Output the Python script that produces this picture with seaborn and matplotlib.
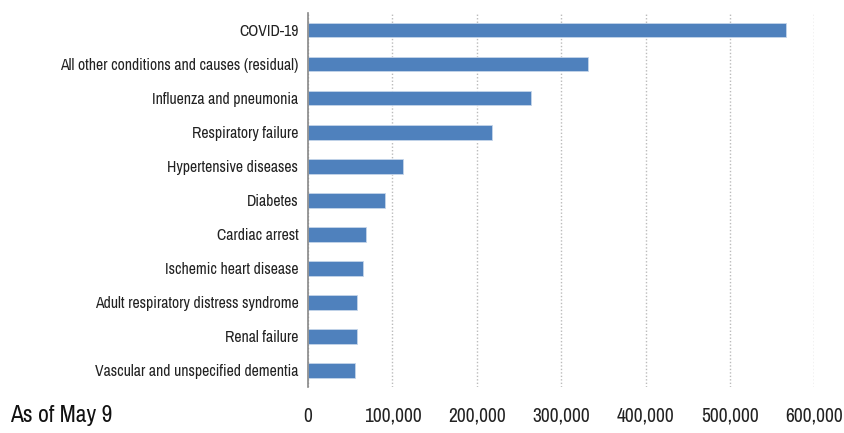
import matplotlib
matplotlib.use("Agg")
import matplotlib.pyplot as plt
import matplotlib.ticker as mticker
import pandas as pd
import seaborn as sns

causes = [
    "COVID-19",
    "All other conditions and causes (residual)",
    "Influenza and pneumonia",
    "Respiratory failure",
    "Hypertensive diseases",
    "Diabetes",
    "Cardiac arrest",
    "Ischemic heart disease",
    "Adult respiratory distress syndrome",
    "Renal failure",
    "Vascular and unspecified dementia",
]
deaths = [566000, 332000, 264000, 218000, 112500, 91000, 68700, 64800, 58500, 58200, 55700]
x_ticks = [0, 100000, 200000, 300000, 400000, 500000, 600000]
note = "As of May 9"

df = pd.DataFrame({"cause": causes, "deaths": deaths})

sns.set_theme(style="white")
plt.rcParams["font.family"] = ["Archivo Narrow", "DejaVu Sans"]

fig = plt.figure(figsize=(8.44, 4.33), dpi=100)
ax = fig.add_axes([0.365, 0.106, 0.6, 0.864])

sns.barplot(data=df, x="deaths", y="cause", orient="h", color="#4F81BD",
            saturation=1, width=0.44, edgecolor="#C5D5EA", linewidth=0.6, ax=ax)

ax.set_xlim(0, 600000)
ax.set_ylim(len(causes) - 0.5, -0.5)
ax.set_xticks(x_ticks)
ax.xaxis.set_major_formatter(mticker.StrMethodFormatter("{x:,.0f}"))
ax.tick_params(axis="x", length=0, labelsize=14, pad=14, colors="#222222")
ax.tick_params(axis="y", which="major", length=0, labelsize=11.3, pad=7, colors="#222222")
ax.set_yticks([i - 0.5 for i in range(len(causes) + 1)], minor=True)
ax.tick_params(axis="y", which="minor", length=5, width=1.2, color="#888888", direction="out")
ax.grid(axis="x", linestyle=(0, (1, 1.5)), color="#BBBBBB", linewidth=1)
ax.set_axisbelow(True)
ax.set_xlabel("")
ax.set_ylabel("")

for side in ["top", "right", "bottom"]:
    ax.spines[side].set_visible(False)
ax.spines["left"].set_color("#888888")
ax.spines["left"].set_linewidth(1.2)

fig.text(10 / 844, 1 - 416 / 433, note, fontsize=17, color="#111111", va="center", ha="left")

fig.savefig("out.png", dpi=100)
